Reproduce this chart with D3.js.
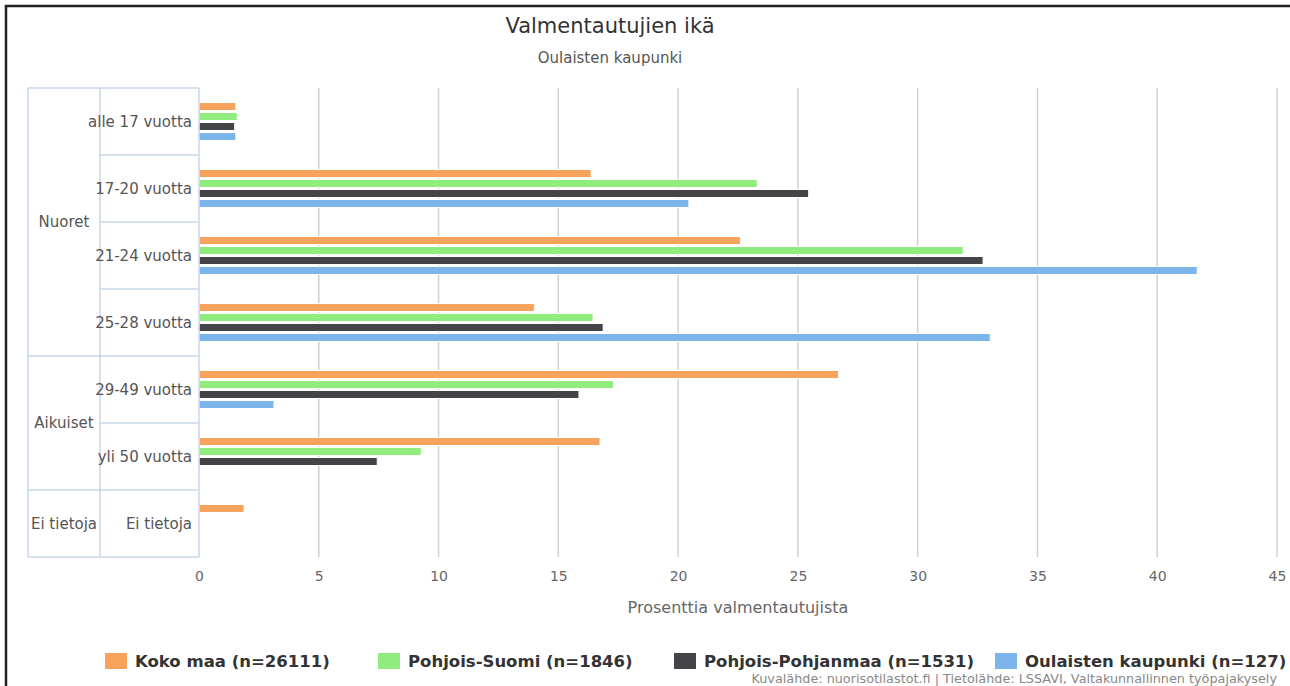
<!DOCTYPE html>
<html>
<head>
<meta charset="utf-8">
<script src="https://cdn.jsdelivr.net/npm/d3@7"></script>
<style>
  body { margin: 0; background: #fff; }
  svg { display: block; font-family: "DejaVu Sans", sans-serif; }
</style>
</head>
<body>
<div id="container"></div>
<script>
// age categories and their groups
const categories = ['alle 17 vuotta', '17-20 vuotta', '21-24 vuotta', '25-28 vuotta', '29-49 vuotta', 'yli 50 vuotta', 'Ei tietoja'];
const groups = [
    { name: 'Nuoret', first: 0, last: 3 },
    { name: 'Aikuiset', first: 4, last: 5 },
    { name: 'Ei tietoja', first: 6, last: 6 }
];

// series names and values (% of participants)
const seriesNames = ['Koko maa (n=26111)', 'Pohjois-Suomi (n=1846)', 'Pohjois-Pohjanmaa (n=1531)', 'Oulaisten kaupunki (n=127)'];
const kokoMaa = [1.54, 16.37, 22.6, 14.0, 26.7, 16.74, 1.88];
const pohjoisSuomi = [1.6, 23.3, 31.9, 16.45, 17.3, 9.28, 0];
const pohjoisPohjanmaa = [1.49, 25.45, 32.73, 16.87, 15.86, 7.44, 0];
const oulainen = [1.54, 20.45, 41.67, 33.03, 3.13, 0, 0];
const seriesColors = ['#f7a35c', '#90ed7d', '#434348', '#7cb5ec'];

const xTicks = [0, 5, 10, 15, 20, 25, 30, 35, 40, 45];

// chart dimensions
const w = 1290;
const h = 686;
const plotLeft = 199, plotRight = 1277, plotTop = 88, plotBottom = 557;
const groupLeft = 28, catLeft = 100;

const series = [kokoMaa, pohjoisSuomi, pohjoisPohjanmaa, oulainen];

const xScale = d3.scaleLinear()
                .domain([0, 45])
                .range([plotLeft, plotRight]);

const yScale = d3.scaleBand()
                .domain(categories)
                .range([plotTop, plotBottom]);

const ySub = d3.scaleBand()
                .domain(d3.range(series.length))
                .range([13.5, 53.5])
                .paddingInner(0.2)
                .paddingOuter(0.1);

const svg = d3.select('#container')
                .append('svg')
                .attr('width', w)
                .attr('height', h);

svg.append('rect').attr('width', w).attr('height', h).attr('fill', '#fff');

// outer frame
svg.append('path')
    .attr('d', `M6,${h} V6 H${w}`)
    .attr('fill', 'none')
    .attr('stroke', '#222')
    .attr('stroke-width', 2.5);

// titles
svg.append('text')
    .attr('x', 610).attr('y', 33)
    .attr('text-anchor', 'middle')
    .attr('font-size', 21)
    .attr('fill', '#333')
    .text('Valmentautujien ikä');

svg.append('text')
    .attr('x', 610).attr('y', 63)
    .attr('text-anchor', 'middle')
    .attr('font-size', 15)
    .attr('fill', '#555')
    .text('Oulaisten kaupunki');

// gridlines
svg.append('g')
    .selectAll('line')
    .data(xTicks.filter(d => d > 0))
    .join('line')
    .attr('x1', d => xScale(d)).attr('x2', d => xScale(d))
    .attr('y1', plotTop).attr('y2', plotBottom)
    .attr('stroke', '#d0d0d0')
    .attr('stroke-width', 1.5);

// x axis labels
const xAxis = d3.axisBottom(xScale).tickValues(xTicks).tickSize(0).tickPadding(14);
const gx = svg.append('g')
    .attr('transform', `translate(0, ${plotBottom})`)
    .call(xAxis);
gx.select('.domain').remove();
gx.selectAll('text')
    .attr('font-family', '"DejaVu Sans", sans-serif')
    .attr('font-size', 14)
    .attr('fill', '#666');

svg.append('text')
    .attr('x', (plotLeft + plotRight) / 2).attr('y', 613)
    .attr('text-anchor', 'middle')
    .attr('font-size', 16)
    .attr('fill', '#666')
    .text('Prosenttia valmentautujista');

// bars
series.forEach((vals, i) => {
    svg.append('g')
        .selectAll('rect')
        .data(vals.map((v, j) => ({ v, cat: categories[j] })).filter(d => d.v > 0))
        .join('rect')
        .attr('x', xScale(0))
        .attr('y', d => yScale(d.cat) + ySub(i))
        .attr('width', d => xScale(d.v) - xScale(0))
        .attr('height', ySub.bandwidth())
        .attr('fill', seriesColors[i])
        .attr('stroke', '#fff')
        .attr('stroke-width', 1);
});

// grouped category axis
const boxColor = '#c8d6e8';
const cat = svg.append('g').attr('stroke', boxColor).attr('stroke-width', 1.5).attr('fill', 'none');
[groupLeft, catLeft, plotLeft].forEach(x => {
    cat.append('line').attr('x1', x).attr('x2', x).attr('y1', plotTop).attr('y2', plotBottom);
});
categories.forEach((c, j) => {
    const isGroupEdge = groups.some(g => g.first === j);
    cat.append('line')
        .attr('x1', isGroupEdge ? groupLeft : catLeft).attr('x2', plotLeft)
        .attr('y1', yScale(c)).attr('y2', yScale(c));
});
cat.append('line').attr('x1', groupLeft).attr('x2', plotLeft).attr('y1', plotBottom).attr('y2', plotBottom);

svg.append('g')
    .selectAll('text')
    .data(categories)
    .join('text')
    .attr('x', plotLeft - 7)
    .attr('y', d => yScale(d) + yScale.bandwidth() / 2)
    .attr('dy', '0.35em')
    .attr('text-anchor', 'end')
    .attr('font-size', 15)
    .attr('fill', '#555')
    .text(d => d);

svg.append('g')
    .selectAll('text')
    .data(groups)
    .join('text')
    .attr('x', (groupLeft + catLeft) / 2)
    .attr('y', d => (yScale(categories[d.first]) + yScale(categories[d.last]) + yScale.bandwidth()) / 2)
    .attr('dy', '0.35em')
    .attr('text-anchor', 'middle')
    .attr('font-size', 15)
    .attr('fill', '#555')
    .text(d => d.name);

// legend
const legendX = [105, 378, 674, 995];
const legend = svg.append('g');
seriesNames.forEach((name, i) => {
    legend.append('rect')
        .attr('x', legendX[i]).attr('y', 653)
        .attr('width', 22).attr('height', 16)
        .attr('fill', seriesColors[i]);
    legend.append('text')
        .attr('x', legendX[i] + 30).attr('y', 667)
        .attr('font-size', 16.5)
        .attr('font-weight', 'bold')
        .attr('fill', '#333')
        .text(name);
});

svg.append('text')
    .attr('x', plotRight).attr('y', 683)
    .attr('text-anchor', 'end')
    .attr('font-size', 12.8)
    .attr('fill', '#888')
    .text('Kuvalähde: nuorisotilastot.fi | Tietolähde: LSSAVI, Valtakunnallinnen työpajakysely');
</script>
</body>
</html>
